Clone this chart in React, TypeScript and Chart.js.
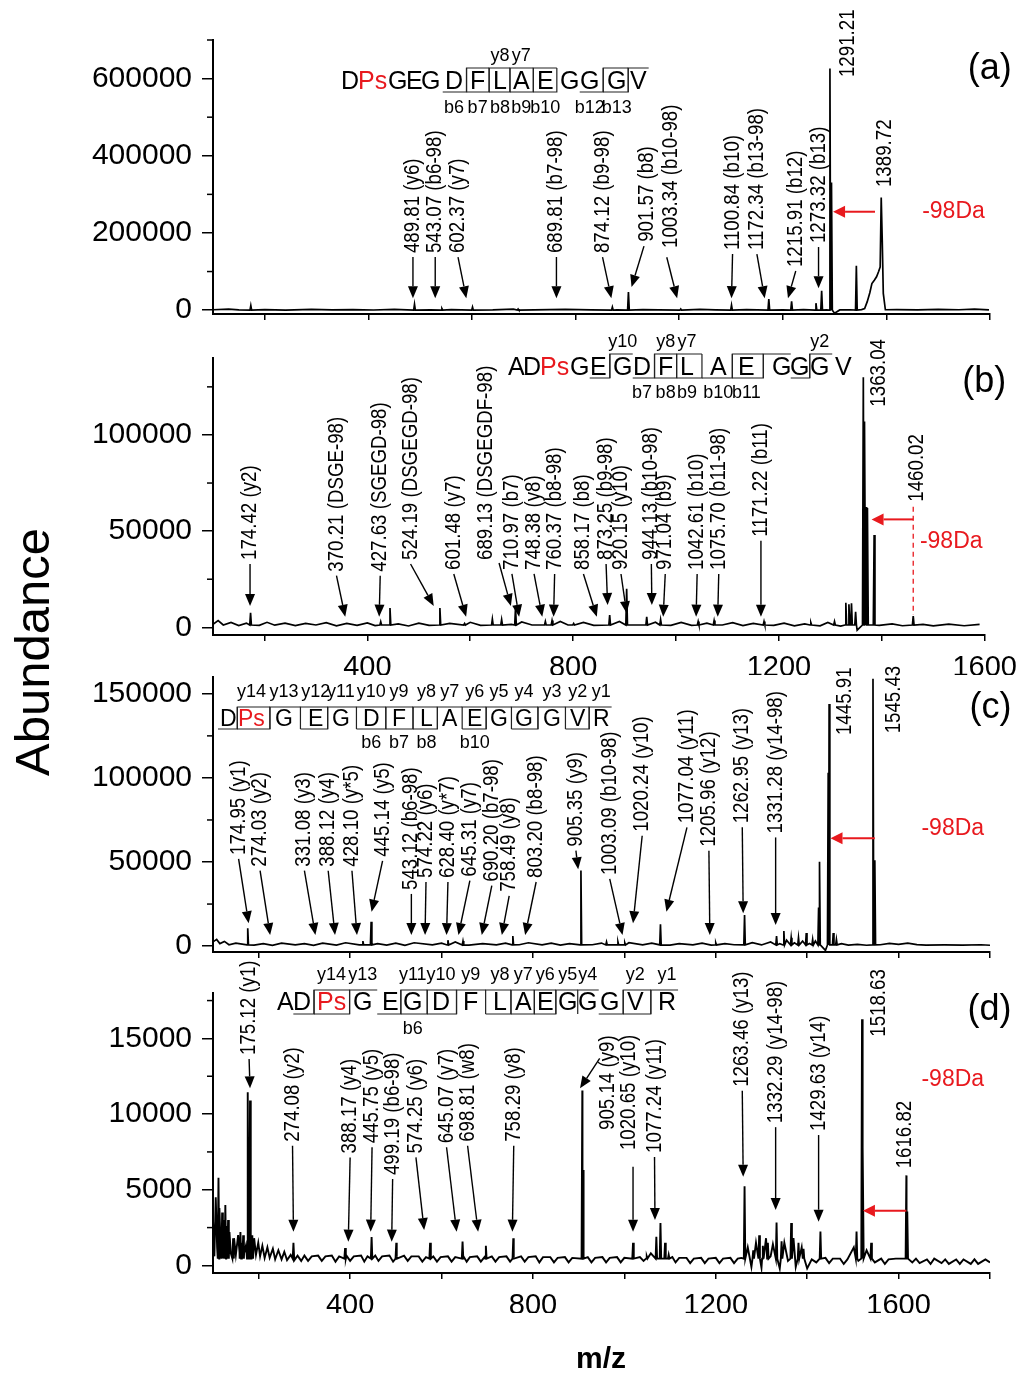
import React, { useEffect, useRef } from 'react';
import { Chart, registerables } from 'chart.js';

Chart.register(...registerables);

const FONT = '"Liberation Sans", Arial, Helvetica, sans-serif';
const RED = '#e8191e';
const W = 1027;
const H = 1378;
const XH = 40;
const RIGHT = 990;
const YW = 213;
const HW = 1.6;

// ---------------- tick values ----------------
const xTicksAB = [200, 400, 600, 800, 1000, 1200, 1400, 1600];
const xTicksCD = [200, 400, 600, 800, 1000, 1200, 1400, 1600, 1800];
const xLabelVals = [400, 800, 1200, 1600];
const yLabelsA = [0, 200000, 400000, 600000];
const yMinorA = [100000, 300000, 500000, 700000];
const yLabelsB = [0, 50000, 100000];
const yMinorB = [25000, 75000, 125000];
const yLabelsC = [0, 50000, 100000, 150000];
const yMinorC = [25000, 75000, 125000];
const yLabelsD = [0, 5000, 10000, 15000];
const yMinorD = [2500, 7500, 12500, 17500];

// ---------------- spectra: sticks [m/z, abundance] ----------------
const peaksA: [number, number][] = [
  [173, 12000], [489, 15000], [542, 4000], [601, 8000], [689, 3000], [871, 8000], [902, 47000],
  [1003, 3000], [1101, 13000], [1173, 28500], [1217, 23000], [1264, 18000], [1275, 50000],
  [1291, 626000], [1294, 331000], [1342, 115000],
];
const traceA: [number, number][] = [
  [100, 1000], [130, 2500], [150, 500], [200, 1500], [240, 300], [290, 1800], [330, 600], [370, 1500],
  [410, 400], [450, 2000], [520, 800], [560, 1500], [640, 600], [680, 2500], [720, 500], [780, 1800],
  [830, 700], [880, 500], [930, 1500], [960, 500], [1040, 1800], [1070, 500], [1130, 1500], [1200, 800],
  [1240, 1500], [1284, 500], [1300, -8000], [1310, 500], [1330, 1000], [1352, 1500], [1358, 4000],
  [1363, 22000], [1368, 45000], [1372, 69000], [1377, 78000], [1381, 86500], [1385, 100000],
  [1388, 112000], [1390, 292000], [1392, 180000], [1394, 43500], [1398, 1000], [1420, 1500],
  [1460, 500], [1500, 2000], [1540, 1000], [1570, 2500], [1598, 800],
];

const peaksB: [number, number][] = [
  [173, 7600], [426, 2900], [444, 10000], [541, 10000], [589, 2000], [643, 4300], [661, 4000],
  [688, 10200], [746, 3000], [759, 3500], [801, 2000], [871, 6400], [904, 20000], [943, 5500],
  [970, 4000], [1043, 3000], [1074, 3500], [1171, 3000], [1262, 2500], [1308, 3000], [1330, 12800],
  [1336, 12000], [1341, 12500], [1349, 8000], [1364, 130000], [1367, 107000], [1370, 62600],
  [1372, 62000], [1385, 48000], [1461, 5900],
];
const traceB: [number, number][] = [
  [100, 1500], [110, 3500], [120, 1200], [135, 2500], [150, 900], [165, 2200], [190, 1000], [205, 2600],
  [220, 1100], [240, 2200], [260, 900], [280, 2000], [300, 1200], [320, 2400], [340, 800], [360, 2000],
  [380, 1000], [400, 2300], [415, 900], [460, 1800], [480, 700], [500, 2200], [520, 1000], [560, 2000],
  [600, 2600], [620, 1000], [680, 1500], [700, 2800], [720, 1200], [775, 3000], [790, 1200], [820, 2500],
  [840, 1000], [890, 3000], [925, 1200], [960, 2600], [990, 1000], [1010, 2500], [1030, 1000],
  [1060, 2200], [1090, 1200], [1110, 2400], [1130, 900], [1150, 2000], [1190, 1000], [1210, 2200],
  [1230, 800], [1250, 1800], [1280, 800], [1295, 2500], [1320, 600], [1352, -1500], [1395, 1000],
  [1420, 1800], [1440, 800], [1480, 1500], [1500, 700], [1530, 1600], [1560, 800], [1590, 1500],
];

const peaksC: [number, number][] = [
  [176, 10600], [428, 3000], [446, 14500], [614, 3500], [647, 3000], [756, 6000], [905, 44900],
  [961, 2500], [986, 2500], [1001, 2000], [1079, 13000], [1200, 2000], [1263, 18500], [1333, 6000],
  [1349, 9000], [1365, 5000], [1381, 5000], [1398, 7800], [1412, 4000], [1425, 23000], [1427, 50200],
  [1446, 103000], [1448, 143900], [1457, 7800], [1464, 4000], [1544, 159000], [1548, 51000],
];
const traceC: [number, number][] = [
  [100, 2500], [108, 4000], [115, 1500], [125, 2800], [135, 800], [150, 1800], [190, 600], [210, 1500],
  [230, 500], [250, 1800], [280, 700], [300, 1500], [320, 500], [340, 1800], [370, 600], [390, 2000],
  [420, 700], [460, 1500], [480, 600], [500, 1800], [520, 500], [540, 2000], [580, 700], [600, 1800],
  [630, 2500], [660, 600], [690, 1500], [720, 700], [740, 1800], [770, 800], [790, 2000], [820, 700],
  [840, 1800], [860, 600], [880, 1500], [930, 800], [950, 1800], [970, 700], [1010, 2000], [1040, 800],
  [1060, 1800], [1100, 600], [1120, 1500], [1150, 700], [1170, 1800], [1190, 600], [1220, 1500],
  [1240, 800], [1280, 2000], [1300, 700], [1320, 2500], [1340, 1500], [1355, 3500], [1372, 2000],
  [1390, 3000], [1405, 1500], [1418, 3000], [1440, -2500], [1475, 1500], [1490, 600], [1510, 1000],
  [1530, 500], [1560, 800], [1580, 1600], [1600, 1000], [1620, 1800], [1640, 900], [1660, 600],
  [1700, 700], [1740, 600], [1780, 800], [1800, 500],
];

const peaksD: [number, number][] = [
  [112, 5800], [120, 3500], [127, 4000], [133, 3000], [144, 1800], [160, 2200], [166, 2000],
  [176, 11450], [181, 10900], [186, 2000], [276, 1500], [389, 1150], [447, 1870], [501, 1500],
  [575, 1500], [646, 1580], [697, 1300], [757, 1800], [908, 11550], [910, 6300], [1019, 1500],
  [1049, 600], [1070, 1900], [1079, 2800], [1089, 1500], [1097, 700], [1263, 5230], [1282, 1000],
  [1295, 2000], [1303, 1300], [1314, 1500], [1333, 2840], [1344, 1600], [1365, 2800], [1381, 1500],
  [1392, 1100], [1429, 2240], [1508, 2240], [1520, 16270], [1522, 7800], [1540, 1500], [1617, 5950],
  [1619, 3570],
];
const traceD: [number, number][] = [
  [100, 3000], [103, 600], [106, 4500], [109, 1200], [114, 3800], [117, 900], [122, 3000], [124, 1000],
  [129, 2600], [131, 700], [136, 2200], [139, 800], [146, 1800], [150, 700], [155, 2000], [158, 900],
  [163, 1500], [168, 800], [172, 1300], [190, 1800], [194, 700], [199, 1500], [203, 600], [208, 1300],
  [213, 500], [219, 1200], [224, 500], [231, 1100], [236, 400], [243, 1000], [250, 400], [256, 900],
  [262, 350], [270, 700], [278, 350], [285, 650], [293, 300], [300, 650], [308, 300], [316, 600],
  [330, 650], [338, 300], [346, 600], [360, 650], [368, 250], [376, 600], [392, 650], [400, 300],
  [408, 600], [424, 650], [431, 250], [438, 600], [455, 650], [462, 300], [470, 600], [486, 650],
  [494, 250], [502, 600], [518, 650], [526, 300], [534, 600], [550, 600], [558, 250], [566, 550],
  [582, 600], [590, 250], [598, 550], [614, 600], [622, 250], [630, 550], [648, 600], [655, 250],
  [662, 550], [678, 600], [686, 250], [694, 550], [710, 600], [718, 250], [726, 550], [742, 600],
  [750, 250], [758, 550], [774, 600], [782, 250], [790, 550], [806, 600], [814, 200], [822, 550],
  [838, 550], [846, 200], [854, 500], [870, 550], [878, 200], [886, 500], [920, 550], [928, 200],
  [936, 500], [952, 550], [960, 200], [968, 500], [984, 550], [992, 200], [1000, 500], [1034, 550],
  [1042, 300], [1058, 800], [1105, 550], [1112, 200], [1120, 500], [1136, 500], [1144, 150],
  [1152, 450], [1168, 500], [1176, 150], [1184, 450], [1200, 500], [1208, 150], [1216, 450],
  [1232, 500], [1240, 150], [1248, 450], [1256, 500], [1270, 1200], [1278, -100], [1288, 1500],
  [1300, -150], [1310, 1800], [1320, 600], [1325, 1400], [1340, -200], [1350, 1500], [1358, 300],
  [1370, 1800], [1375, -100], [1388, 1200], [1400, -200], [1410, 400], [1420, 200], [1440, 500],
  [1448, 150], [1456, 450], [1472, 450], [1480, 100], [1488, 400], [1502, 1200], [1512, 300],
  [1530, 1000], [1548, 200], [1562, 450], [1570, 100], [1578, 400], [1594, 450], [1630, 200],
  [1638, 450], [1646, 150], [1662, 400], [1670, 100], [1678, 450], [1694, 150], [1702, 400],
  [1710, 100], [1726, 400], [1734, 100], [1742, 400], [1758, 100], [1766, 400], [1774, 100],
  [1790, 400], [1800, 200],
];

// ---------------- peak labels (text anchor, arrow tip) in data units ----------------
type Ann = { t: string; x: number; y: number; tx?: number; ty?: number; sx?: number; sy?: number };

const annA: Ann[] = [
  { t: '489.81 (y6)', x: 486, y: 148000, tx: 486, ty: 31000 },
  { t: '543.07 (b6-98)', x: 529, y: 148000, tx: 529, ty: 31000 },
  { t: '602.37 (y7)', x: 573, y: 148000, tx: 589, ty: 31000 },
  { t: '689.81 (b7-98)', x: 763, y: 148000, tx: 763, ty: 31000 },
  { t: '874.12 (b9-98)', x: 852, y: 148000, tx: 869, ty: 31000 },
  { t: '901.57 (b8)', x: 937, y: 177000, sx: 932, sy: 166000, tx: 908, ty: 60000 },
  { t: '1003.34 (b10-98)', x: 984, y: 161000, sx: 976, sy: 137000, tx: 996, ty: 31000 },
  { t: '1100.84 (b10)', x: 1103, y: 155700, tx: 1101, ty: 31000 },
  { t: '1172.34 (b13-98)', x: 1150, y: 155700, tx: 1165, ty: 31000 },
  { t: '1215.91 (b12)', x: 1225, y: 111700, tx: 1210, ty: 31000 },
  { t: '1273.32 (b13)', x: 1269, y: 173900, tx: 1269, ty: 57000 },
  { t: '1291.21', x: 1326, y: 604000 },
  { t: '1389.72', x: 1397, y: 319000 },
];
const annB: Ann[] = [
  { t: '174.42 (y2)', x: 172, y: 35000, tx: 172, ty: 11100 },
  { t: '370.21 (DSGE-98)', x: 340, y: 28900, tx: 357, ty: 5500 },
  { t: '427.63 (SGEGD-98)', x: 425, y: 28900, tx: 423, ty: 5500 },
  { t: '524.19 (DSGEGD-98)', x: 484, y: 35000, tx: 529, ty: 11100 },
  { t: '601.48 (y7)', x: 568, y: 29800, tx: 592, ty: 5500 },
  { t: '689.13 (DSGEGDF-98)', x: 631, y: 35000, sx: 656, sy: 33400, tx: 679, ty: 11100 },
  { t: '710.97 (b7)', x: 681, y: 29800, tx: 695, ty: 5500 },
  { t: '748.38 (y8)', x: 724, y: 29800, tx: 740, ty: 5500 },
  { t: '760.37 (b8-98)', x: 764, y: 29800, tx: 762, ty: 5500 },
  { t: '858.17 (b8)', x: 820, y: 29800, tx: 846, ty: 5500 },
  { t: '873.25 (b9-98)', x: 864, y: 35000, tx: 867, ty: 11600 },
  { t: '920.15 (y10)', x: 893, y: 29800, tx: 904, ty: 7300 },
  { t: '944.13 (b10-98)', x: 952, y: 35000, tx: 953, ty: 11600 },
  { t: '971.04 (b9)', x: 979, y: 29800, tx: 975, ty: 5500 },
  { t: '1042.61 (b10)', x: 1041, y: 29800, tx: 1039, ty: 5500 },
  { t: '1075.70 (b11-98)', x: 1083, y: 29800, tx: 1081, ty: 5500 },
  { t: '1171.22 (b11)', x: 1165, y: 47100, tx: 1165, ty: 5500 },
  { t: '1363.04', x: 1394, y: 114700 },
  { t: '1460.02', x: 1468, y: 65300 },
];
const annC: Ann[] = [
  { t: '174.95 (y1)', x: 156, y: 54200, tx: 178, ty: 13600 },
  { t: '274.03 (y2)', x: 203, y: 47200, tx: 225, ty: 6600 },
  { t: '331.08 (y3)', x: 300, y: 47200, tx: 324, ty: 6600 },
  { t: '388.12 (y4)', x: 352, y: 47200, tx: 367, ty: 6600 },
  { t: '428.10 (y*5)', x: 404, y: 47200, tx: 415, ty: 6600 },
  { t: '445.14 (y5)', x: 471, y: 53100, tx: 447, ty: 20500 },
  { t: '543.12 (b6-98)', x: 534, y: 33400, tx: 534, ty: 6600 },
  { t: '574.22 (y6)', x: 566, y: 40500, tx: 564, ty: 6600 },
  { t: '628.40 (y*7)', x: 614, y: 40500, tx: 611, ty: 6600 },
  { t: '645.31 (y7)', x: 662, y: 41300, tx: 637, ty: 6600 },
  { t: '690.20 (b7-98)', x: 710, y: 38300, tx: 688, ty: 6600 },
  { t: '758.49 (y8)', x: 748, y: 32300, tx: 732, ty: 6600 },
  { t: '803.20 (b8-98)', x: 807, y: 40500, tx: 783, ty: 6600 },
  { t: '905.35 (y9)', x: 894, y: 59100, tx: 899, ty: 45700 },
  { t: '1003.09 (b10-98)', x: 968, y: 42300, tx: 996, ty: 6600 },
  { t: '1020.24 (y10)', x: 1039, y: 68000, tx: 1019, ty: 13600 },
  { t: '1077.04 (y11)', x: 1137, y: 73000, tx: 1092, ty: 20500 },
  { t: '1205.96 (y12)', x: 1185, y: 59100, tx: 1187, ty: 6600 },
  { t: '1262.95 (y13)', x: 1258, y: 73000, tx: 1260, ty: 19500 },
  { t: '1331.28 (y14-98)', x: 1331, y: 67000, tx: 1331, ty: 12500 },
  { t: '1445.91', x: 1483, y: 125500 },
  { t: '1545.43', x: 1590, y: 126500 },
];
const annD: Ann[] = [
  { t: '175.12 (y1)', x: 179, y: 13900, tx: 181, ty: 11700 },
  { t: '274.08 (y2)', x: 274, y: 8170, tx: 276, ty: 2230 },
  { t: '388.17 (y4)', x: 400, y: 7400, tx: 396, ty: 1570 },
  { t: '445.75 (y5)', x: 448, y: 8070, tx: 445, ty: 2230 },
  { t: '499.19 (b6-98)', x: 493, y: 5970, tx: 491, ty: 1570 },
  { t: '574.25 (y6)', x: 544, y: 7400, tx: 562, ty: 2340 },
  { t: '645.07 (y7)', x: 611, y: 8070, tx: 633, ty: 2230 },
  { t: '698.81 (w8)', x: 657, y: 8170, tx: 680, ty: 2230 },
  { t: '758.29 (y8)', x: 758, y: 8170, tx: 755, ty: 2230 },
  { t: '905.14 (y9)', x: 965, y: 8950, sx: 946, sy: 13680, tx: 903, ty: 11700 },
  { t: '1020.65 (y10)', x: 1011, y: 7620, sx: 1019, sy: 6520, tx: 1019, ty: 2230 },
  { t: '1077.24 (y11)', x: 1066, y: 7430, tx: 1067, ty: 3000 },
  { t: '1263.46 (y13)', x: 1258, y: 11800, tx: 1260, ty: 5860 },
  { t: '1332.29 (y14-98)', x: 1331, y: 9400, tx: 1331, ty: 3660 },
  { t: '1429.63 (y14)', x: 1425, y: 8880, tx: 1425, ty: 2890 },
  { t: '1518.63', x: 1557, y: 15110 },
  { t: '1616.82', x: 1614, y: 6415 },
];

// ---------------- peptide sequence diagrams (layout in px) ----------------
type SeqLab = { t: string; r: number; pos: 't' | 'b' };
type Seq = {
  res: string[]; left: number[]; base: number; top: number; bottom: number; size: number;
  b: number[]; y: number[]; labels: SeqLab[]; labTop: number; labBot: number;
};
const seqA: Seq = {
  res: ['D', 'Ps', 'G', 'E', 'G', 'D', 'F', 'L', 'A', 'E', 'G', 'G', 'G', 'V'],
  left: [341, 358, 388, 406, 421, 445, 470, 493, 513, 537, 560, 580, 607, 630],
  base: 89, top: 68, bottom: 92, size: 25,
  b: [5, 6, 7, 8, 9, 11, 12], y: [5, 6, 7, 8, 11, 12],
  labels: [
    { t: 'y8', r: 7, pos: 't' }, { t: 'y7', r: 8, pos: 't' },
    { t: 'b6', r: 5, pos: 'b' }, { t: 'b7', r: 6, pos: 'b' }, { t: 'b8', r: 7, pos: 'b' },
    { t: 'b9', r: 8, pos: 'b' }, { t: 'b10', r: 9, pos: 'b' }, { t: 'b12', r: 11, pos: 'b' },
    { t: 'b13', r: 12, pos: 'b' },
  ],
  labTop: 56, labBot: 108,
};
const seqB: Seq = {
  res: ['A', 'D', 'Ps', 'G', 'E', 'G', 'D', 'F', 'L', 'A', 'E', 'G', 'G', 'G', 'V'],
  left: [508, 523, 540, 570, 590, 613, 633, 658, 680, 710, 738, 772, 790, 810, 835],
  base: 375, top: 354, bottom: 378, size: 25,
  b: [4, 6, 7, 8, 9, 10, 12], y: [4, 6, 7, 9, 10, 12],
  labels: [
    { t: 'y10', r: 5, pos: 't' }, { t: 'y8', r: 7, pos: 't' }, { t: 'y7', r: 8, pos: 't' },
    { t: 'y2', r: 13, pos: 't' },
    { t: 'b7', r: 6, pos: 'b' }, { t: 'b8', r: 7, pos: 'b' }, { t: 'b9', r: 8, pos: 'b' },
    { t: 'b10', r: 9, pos: 'b' }, { t: 'b11', r: 10, pos: 'b' },
  ],
  labTop: 342, labBot: 393,
};
const seqC: Seq = {
  res: ['D', 'Ps', 'G', 'E', 'G', 'D', 'F', 'L', 'A', 'E', 'G', 'G', 'G', 'V', 'R'],
  left: [220, 238, 275, 308, 332, 363, 392, 420, 442, 467, 490, 515, 543, 570, 593],
  base: 726, top: 707, bottom: 729, size: 23,
  b: [0, 1, 3, 5, 6, 7, 9, 11, 13], y: [0, 1, 2, 3, 4, 5, 6, 7, 8, 9, 10, 11, 12, 13],
  labels: [
    { t: 'y14', r: 1, pos: 't' }, { t: 'y13', r: 2, pos: 't' }, { t: 'y12', r: 3, pos: 't' },
    { t: 'y11', r: 4, pos: 't' }, { t: 'y10', r: 5, pos: 't' }, { t: 'y9', r: 6, pos: 't' },
    { t: 'y8', r: 7, pos: 't' }, { t: 'y7', r: 8, pos: 't' }, { t: 'y6', r: 9, pos: 't' },
    { t: 'y5', r: 10, pos: 't' }, { t: 'y4', r: 11, pos: 't' }, { t: 'y3', r: 12, pos: 't' },
    { t: 'y2', r: 13, pos: 't' }, { t: 'y1', r: 14, pos: 't' },
    { t: 'b6', r: 5, pos: 'b' }, { t: 'b7', r: 6, pos: 'b' }, { t: 'b8', r: 7, pos: 'b' },
    { t: 'b10', r: 9, pos: 'b' },
  ],
  labTop: 692, labBot: 743,
};
const seqD: Seq = {
  res: ['A', 'D', 'Ps', 'G', 'E', 'G', 'D', 'F', 'L', 'A', 'E', 'G', 'G', 'G', 'V', 'R'],
  left: [277, 293, 317, 353, 382, 403, 432, 463, 493, 515, 537, 558, 578, 600, 627, 658],
  base: 1010, top: 990, bottom: 1014, size: 25,
  b: [1, 2, 4, 5, 6, 8, 9, 10, 13, 14], y: [1, 2, 4, 5, 6, 7, 8, 9, 10, 11, 13, 14],
  labels: [
    { t: 'y14', r: 2, pos: 't' }, { t: 'y13', r: 3, pos: 't' }, { t: 'y11', r: 5, pos: 't' },
    { t: 'y10', r: 6, pos: 't' }, { t: 'y9', r: 7, pos: 't' }, { t: 'y8', r: 8, pos: 't' },
    { t: 'y7', r: 9, pos: 't' }, { t: 'y6', r: 10, pos: 't' }, { t: 'y5', r: 11, pos: 't' },
    { t: 'y4', r: 12, pos: 't' }, { t: 'y2', r: 14, pos: 't' }, { t: 'y1', r: 15, pos: 't' },
    { t: 'b6', r: 5, pos: 'b' },
  ],
  labTop: 975, labBot: 1029,
};

// ---------------- panels ----------------
type Panel = {
  key: string; xMin: number; xMax: number; yMin: number; yMax: number;
  xTicks: number[]; xLabels: number[]; yLabels: number[]; yMinor: number[];
  top: number; bottom: number; lw: number;
  peaks: [number, number][]; trace: [number, number][]; base: number; ann: Ann[];
  red: { y: number; x0: number; x1: number }; da: { x: number; y: number };
  tag: { t: string; x: number; y: number }; dashed?: { x: number; y0: number; y1: number }; seq: Seq;
};

const PANELS: Panel[] = [
  {
    key: 'a', xMin: 100, xMax: 1600, yMin: -10000, yMax: 700000, xTicks: xTicksAB, xLabels: [],
    yLabels: yLabelsA, yMinor: yMinorA, top: 40, bottom: 314, lw: 1.7,
    peaks: peaksA, trace: traceA, base: 0, ann: annA,
    red: { y: 255000, x0: 1378, x1: 1297 }, da: { x: 1469, y: 255000 },
    tag: { t: '(a)', x: 1642, y: 624700 }, seq: seqA,
  },
  {
    key: 'b', xMin: 100, xMax: 1600, yMin: -4000, yMax: 140000, xTicks: xTicksAB, xLabels: xLabelVals,
    yLabels: yLabelsB, yMinor: yMinorB, top: 358, bottom: 635, lw: 1.7,
    peaks: peaksB, trace: traceB, base: 1200, ann: annB,
    red: { y: 56100, x0: 1461, x1: 1380 }, da: { x: 1474, y: 44500 },
    tag: { t: '(b)', x: 1642, y: 127300 }, dashed: { x: 1461, y0: 62700, y1: 6400 }, seq: seqB,
  },
  {
    key: 'c', xMin: 100, xMax: 1800, yMin: -3500, yMax: 160000, xTicks: xTicksCD, xLabels: [],
    yLabels: yLabelsC, yMinor: yMinorC, top: 677, bottom: 952, lw: 1.7,
    peaks: peaksC, trace: traceC, base: 700, ann: annC,
    red: { y: 64100, x0: 1548, x1: 1451 }, da: { x: 1650, y: 70000 },
    tag: { t: '(c)', x: 1847, y: 141500 }, seq: seqC,
  },
  {
    key: 'd', xMin: 100, xMax: 1800, yMin: -500, yMax: 18000, xTicks: xTicksCD, xLabels: xLabelVals,
    yLabels: yLabelsD, yMinor: yMinorD, top: 993, bottom: 1273, lw: 1.9,
    peaks: peaksD, trace: traceD, base: 450, ann: annD,
    red: { y: 3614, x0: 1617, x1: 1522 }, da: { x: 1650, y: 12250 },
    tag: { t: '(d)', x: 1847, y: 16900 }, seq: seqD,
  },
];

function buildTrace(peaks: [number, number][], trace: [number, number][], base: number) {
  const pts = trace.map(([x, y]) => ({ x, y }));
  for (const [m, h] of peaks) {
    pts.push({ x: m - HW, y: base }, { x: m, y: h }, { x: m + HW, y: base });
  }
  pts.sort((a, b) => a.x - b.x);
  return pts;
}

function drawArrow(ctx: any, x0: number, y0: number, x1: number, y1: number, color: string, lw: number, hl: number, hw: number) {
  const ang = Math.atan2(y1 - y0, x1 - x0);
  const bx = x1 - hl * Math.cos(ang);
  const by = y1 - hl * Math.sin(ang);
  ctx.save();
  ctx.strokeStyle = color;
  ctx.fillStyle = color;
  ctx.lineWidth = lw;
  ctx.beginPath();
  ctx.moveTo(x0, y0);
  ctx.lineTo(bx, by);
  ctx.stroke();
  ctx.beginPath();
  ctx.moveTo(x1, y1);
  ctx.lineTo(bx + hw * Math.sin(ang), by - hw * Math.cos(ang));
  ctx.lineTo(bx - hw * Math.sin(ang), by + hw * Math.cos(ang));
  ctx.closePath();
  ctx.fill();
  ctx.restore();
}

function vText(ctx: any, text: string, x: number, y: number) {
  ctx.save();
  ctx.translate(x, y);
  ctx.rotate(-Math.PI / 2);
  ctx.scale(0.85, 1);
  ctx.font = `22px ${FONT}`;
  ctx.fillStyle = '#000';
  ctx.textAlign = 'left';
  ctx.textBaseline = 'middle';
  ctx.fillText(text, 0, 0);
  ctx.restore();
}

function drawSeq(ctx: any, s: Seq) {
  ctx.save();
  ctx.font = `${s.size}px ${FONT}`;
  const n = s.res.length;
  const R = s.res.map((r, i) => s.left[i] + ctx.measureText(r).width);
  const bond = (k: number) => (R[k] + s.left[k + 1]) / 2;
  ctx.textAlign = 'left';
  ctx.textBaseline = 'alphabetic';
  s.res.forEach((r, i) => {
    ctx.fillStyle = r === 'Ps' ? RED : '#000';
    ctx.fillText(r, s.left[i], s.base);
  });
  ctx.strokeStyle = '#222';
  ctx.lineWidth = 1.2;
  for (const k of s.b) {
    const x = bond(k);
    const x0 = k > 0 ? bond(k - 1) : s.left[0] - 2;
    ctx.beginPath();
    ctx.moveTo(x, s.top);
    ctx.lineTo(x, s.bottom);
    ctx.lineTo(x0, s.bottom);
    ctx.stroke();
  }
  for (const k of s.y) {
    const x = bond(k);
    const x1 = k + 1 < n - 1 ? bond(k + 1) : R[n - 1] + 2;
    ctx.beginPath();
    ctx.moveTo(x, s.bottom);
    ctx.lineTo(x, s.top);
    ctx.lineTo(x1, s.top);
    ctx.stroke();
  }
  ctx.font = `18px ${FONT}`;
  ctx.fillStyle = '#000';
  ctx.textAlign = 'center';
  ctx.textBaseline = 'middle';
  for (const l of s.labels) {
    const cx = (s.left[l.r] + R[l.r]) / 2;
    ctx.fillText(l.t, cx, l.pos === 't' ? s.labTop : s.labBot);
  }
  ctx.restore();
}

function extrasPlugin(p: Panel) {
  return {
    id: 'extras_' + p.key,
    afterDraw(chart: any) {
      const ctx = chart.ctx;
      const xs = chart.scales.x;
      const ys = chart.scales.y;
      const X = (v: number) => xs.getPixelForValue(v);
      const Y = (v: number) => ys.getPixelForValue(v);
      const ca = chart.chartArea;
      ctx.save();
      ctx.strokeStyle = '#000';
      ctx.lineWidth = 1.5;
      for (const v of p.yMinor) {
        const py = Y(v);
        ctx.beginPath();
        ctx.moveTo(ca.left - 6, py);
        ctx.lineTo(ca.left, py);
        ctx.stroke();
      }
      for (const a of p.ann) {
        const x = X(a.x);
        const y = Y(a.y);
        vText(ctx, a.t, x, y);
        if (a.tx !== undefined && a.ty !== undefined) {
          const sx = a.sx !== undefined ? X(a.sx) : x;
          const sy = a.sy !== undefined ? Y(a.sy) : y + 4;
          drawArrow(ctx, sx, sy, X(a.tx), Y(a.ty), '#000', 1.4, 12, 5);
        }
      }
      if (p.dashed) {
        ctx.save();
        ctx.strokeStyle = RED;
        ctx.lineWidth = 1.3;
        ctx.setLineDash([5, 4]);
        ctx.beginPath();
        ctx.moveTo(X(p.dashed.x), Y(p.dashed.y0));
        ctx.lineTo(X(p.dashed.x), Y(p.dashed.y1));
        ctx.stroke();
        ctx.restore();
      }
      drawArrow(ctx, X(p.red.x0), Y(p.red.y), X(p.red.x1), Y(p.red.y), RED, 2, 12, 6);
      ctx.fillStyle = RED;
      ctx.font = `23px ${FONT}`;
      ctx.textAlign = 'left';
      ctx.textBaseline = 'middle';
      ctx.fillText('-98Da', X(p.da.x), Y(p.da.y));
      ctx.fillStyle = '#000';
      ctx.font = `36px ${FONT}`;
      ctx.textAlign = 'right';
      ctx.fillText(p.tag.t, X(p.tag.x), Y(p.tag.y));
      drawSeq(ctx, p.seq);
      if (p.key === 'd') {
        ctx.fillStyle = '#000';
        ctx.font = `bold 30px ${FONT}`;
        ctx.textAlign = 'center';
        ctx.textBaseline = 'middle';
        ctx.fillText('m/z', 601, 1360);
        ctx.save();
        ctx.translate(35, 652);
        ctx.rotate(-Math.PI / 2);
        ctx.font = `49px ${FONT}`;
        ctx.fillText('Abundance', 0, 0);
        ctx.restore();
      }
      ctx.restore();
    },
  };
}

function makeConfig(p: Panel): any {
  return {
    type: 'line',
    data: {
      datasets: [{
        data: buildTrace(p.peaks, p.trace, p.base),
        borderColor: '#000', borderWidth: p.lw, pointRadius: 0, fill: false, tension: 0,
      }],
    },
    options: {
      responsive: false,
      animation: false,
      devicePixelRatio: 1,
      events: [],
      parsing: false,
      layout: { padding: { left: 0, right: W - RIGHT, top: p.top, bottom: H - p.bottom - XH } },
      plugins: { legend: { display: false }, tooltip: { enabled: false }, title: { display: false } },
      scales: {
        x: {
          type: 'linear', position: 'bottom', min: p.xMin, max: p.xMax,
          afterBuildTicks: (s: any) => { s.ticks = p.xTicks.map((v) => ({ value: v })); },
          afterFit: (s: any) => { s.height = XH; },
          ticks: {
            autoSkip: false, maxRotation: 0, minRotation: 0, padding: 10, color: '#000',
            font: { family: FONT, size: 29 },
            callback: (v: number) => (p.xLabels.includes(v) ? String(v) : ''),
          },
          grid: { drawOnChartArea: false, drawTicks: true, tickLength: 6, color: '#000', lineWidth: 1.5 },
          border: { display: true, color: '#000', width: 2 },
        },
        y: {
          type: 'linear', position: 'left', min: p.yMin, max: p.yMax,
          afterBuildTicks: (s: any) => { s.ticks = p.yLabels.map((v) => ({ value: v })); },
          afterFit: (s: any) => { s.width = YW; },
          ticks: {
            autoSkip: false, padding: 10, color: '#000', font: { family: FONT, size: 30 },
            callback: (v: number) => String(v),
          },
          grid: { drawOnChartArea: false, drawTicks: true, tickLength: 11, color: '#000', lineWidth: 1.5 },
          border: { display: true, color: '#000', width: 2 },
        },
      },
    },
    plugins: [extrasPlugin(p)],
  };
}

function PanelChart({ p }: { p: Panel }) {
  const ref = useRef<HTMLCanvasElement | null>(null);
  useEffect(() => {
    if (!ref.current) return;
    const chart = new Chart(ref.current, makeConfig(p));
    return () => chart.destroy();
  }, [p]);
  return (
    <canvas
      ref={ref}
      width={W}
      height={H}
      style={{ position: 'absolute', left: 0, top: 0, width: W, height: H }}
    />
  );
}

export default function App() {
  return (
    <div style={{ position: 'absolute', left: 0, top: 0, width: W, height: H, background: '#fff', overflow: 'hidden' }}>
      {PANELS.map((p) => (
        <PanelChart key={p.key} p={p} />
      ))}
    </div>
  );
}
